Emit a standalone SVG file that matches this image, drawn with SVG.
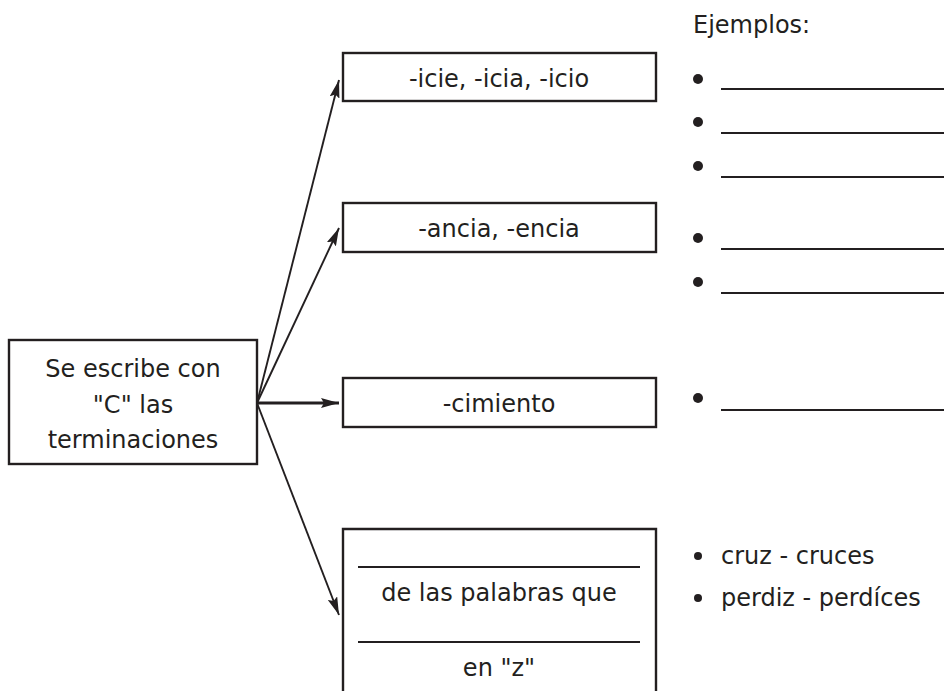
<svg xmlns="http://www.w3.org/2000/svg" width="944" height="691" viewBox="0 0 944 691">
<style>
  .box { fill: #ffffff; stroke: #231f20; stroke-width: 2.4; }
  .t { font-family: "DejaVu Sans", Verdana, sans-serif; font-size: 24px; fill: #231f20; }
  .c { text-anchor: middle; }
  .conn { stroke: #231f20; stroke-width: 1.9; fill: none; }
  .bul { fill: #231f20; }
  .ul { stroke: #231f20; stroke-width: 2; }
</style>
<defs>
  <marker id="ah" viewBox="0 0 18 10" refX="18" refY="5" markerWidth="18" markerHeight="10" markerUnits="userSpaceOnUse" orient="auto">
    <path d="M0,0 L18,5 L0,10 L3,5 Z" fill="#231f20"/>
  </marker>
</defs>
<rect width="944" height="691" fill="#ffffff"/>

<g id="connectors">
  <line class="conn" x1="257" y1="403" x2="339" y2="80" marker-end="url(#ah)"/>
  <line class="conn" x1="257" y1="403" x2="339" y2="228" marker-end="url(#ah)"/>
  <line class="conn" x1="257" y1="403" x2="339" y2="403" marker-end="url(#ah)" style="stroke-width:3"/>
  <line class="conn" x1="257" y1="403" x2="339" y2="615" marker-end="url(#ah)"/>
</g>

<g id="root">
  <rect class="box" x="9" y="340" width="248" height="124"/>
  <text class="t c" x="133" y="377">Se escribe con</text>
  <text class="t c" x="133" y="413">"C" las</text>
  <text class="t c" x="133" y="448">terminaciones</text>
</g>

<g id="n1">
  <rect class="box" x="343" y="53" width="313" height="48"/>
  <text class="t c" x="499" y="87">-icie, -icia, -icio</text>
</g>
<g id="n2">
  <rect class="box" x="343" y="203" width="313" height="49"/>
  <text class="t c" x="499" y="237">-ancia, -encia</text>
</g>
<g id="n3">
  <rect class="box" x="343" y="378" width="313" height="49"/>
  <text class="t c" x="499" y="412">-cimiento</text>
</g>
<g id="n4">
  <path class="box" d="M343,695 L343,529 L656,529 L656,695"/>
  <line class="ul" x1="358" y1="567" x2="640" y2="567"/>
  <text class="t c" x="499" y="601">de las palabras que</text>
  <line class="ul" x1="358" y1="642" x2="640" y2="642"/>
  <text class="t c" x="499" y="676">en "z"</text>
</g>

<g id="examples">
  <text class="t" x="693" y="33">Ejemplos:</text>
  <circle class="bul" cx="698" cy="79" r="5"/>
  <line class="ul" x1="721" y1="89" x2="944" y2="89"/>
  <circle class="bul" cx="698" cy="122" r="5"/>
  <line class="ul" x1="721" y1="133" x2="944" y2="133"/>
  <circle class="bul" cx="698" cy="166" r="5"/>
  <line class="ul" x1="721" y1="177" x2="944" y2="177"/>
  <circle class="bul" cx="698" cy="238" r="5"/>
  <line class="ul" x1="721" y1="249" x2="944" y2="249"/>
  <circle class="bul" cx="698" cy="282" r="5"/>
  <line class="ul" x1="721" y1="293" x2="944" y2="293"/>
  <circle class="bul" cx="698" cy="398" r="5"/>
  <line class="ul" x1="721" y1="410" x2="944" y2="410"/>
  <circle class="bul" cx="698" cy="556" r="4"/>
  <text class="t" x="721" y="564">cruz - cruces</text>
  <circle class="bul" cx="698" cy="598" r="4"/>
  <text class="t" x="721" y="606">perdiz - perdíces</text>
</g>
</svg>
